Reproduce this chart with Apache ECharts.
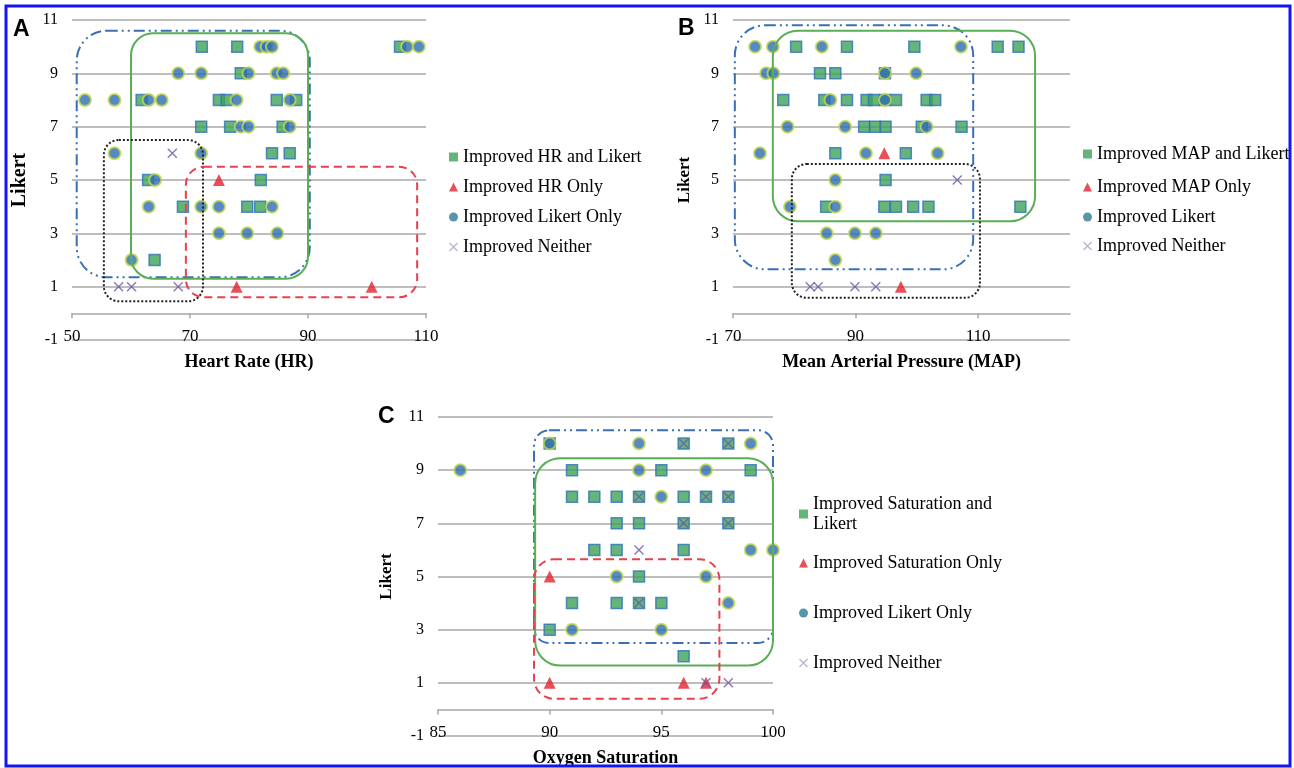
<!DOCTYPE html>
<html><head><meta charset="utf-8">
<script src="https://cdn.jsdelivr.net/npm/echarts@6/dist/echarts.min.js"></script>
<style>html,body{margin:0;padding:0;background:#fff}#c{width:1294px;height:768px}</style>
</head><body><div id="c"></div><script>
// ---------- data ----------
const likertTicks = [-1, 1, 3, 5, 7, 9, 11];
const hrTicks = [50, 70, 90, 110];
const mapTicks = [70, 90, 110];
const satTicks = [85, 90, 95, 100];

// Panel A: Heart Rate vs Likert
const aBoth = [[72,10],[78,10],[105.6,10],[78.6,9],[61.8,8],[74.9,8],[76.2,8],[84.7,8],[88,8],[71.9,7],[76.8,7],[85.7,7],[83.9,6],[86.9,6],[62.9,5],[82,5],[68.8,4],[79.7,4],[81.9,4],[64,2]];
const aHrOnly = [[74.9,5],[77.9,1],[100.8,1]];
const aLikertOnly = [[81.9,10],[83,10],[83.9,10],[106.8,10],[108.8,10],[68,9],[71.9,9],[79.9,9],[84.7,9],[85.8,9],[52.2,8],[57.2,8],[63,8],[65.2,8],[77.9,8],[86.9,8],[78.6,7],[79.9,7],[86.9,7],[57.2,6],[71.9,6],[64.1,5],[63,4],[71.9,4],[74.9,4],[83.9,4],[74.9,3],[79.7,3],[84.8,3],[60.1,2]];
const aNeither = [[67,6],[57.9,1],[60.1,1],[68,1]];

// Panel B: MAP vs Likert
const bBoth = [[80.3,10],[88.6,10],[99.6,10],[113.2,10],[116.6,10],[84.2,9],[86.7,9],[94.8,9],[78.2,8],[84.9,8],[88.6,8],[91.8,8],[93,8],[94.8,8],[96.6,8],[101.6,8],[103,8],[91.4,7],[93.2,7],[94.9,7],[100.8,7],[107.3,7],[86.7,6],[98.2,6],[94.9,5],[85.2,4],[94.7,4],[96.6,4],[99.4,4],[101.9,4],[116.9,4]];
const bMapOnly = [[94.7,6],[97.4,1]];
const bLikert = [[73.6,10],[76.5,10],[84.5,10],[107.2,10],[75.4,9],[76.6,9],[94.8,9],[99.9,9],[85.9,8],[94.8,8],[78.9,7],[88.3,7],[101.6,7],[74.4,6],[91.7,6],[103.4,6],[86.7,5],[79.3,4],[86.7,4],[85.3,3],[89.9,3],[93.3,3],[86.7,2]];
const bNeither = [[106.6,5],[82.6,1],[83.9,1],[89.9,1],[93.3,1]];

// Panel C: Oxygen saturation vs Likert
const cBoth = [[90,10],[96,10],[98,10],[91,9],[95,9],[99,9],[91,8],[92,8],[93,8],[94,8],[96,8],[97,8],[98,8],[93,7],[94,7],[96,7],[98,7],[92,6],[93,6],[96,6],[94,5],[91,4],[93,4],[94,4],[95,4],[90,3],[96,2]];
const cSatOnly = [[90,5],[90,1],[96,1],[97,1]];
const cLikertOnly = [[90,10],[94,10],[99,10],[86,9],[94,9],[97,9],[95,8],[99,6],[100,6],[93,5],[97,5],[98,4],[91,3],[95,3]];
const cNeither = [[96,10],[98,10],[94,8],[97,8],[98,8],[96,7],[98,7],[94,6],[94,4],[97,1],[98,1]];

// annotation outlines in data coordinates: [x1, yTop, x2, yBottom]
const boxesA = { blue: [50.8,10.6,90.3,1.35], green: [60,10.5,90,1.3], black: [55.4,6.5,72.2,0.45], red: [69.3,5.5,108.5,0.6] };
const boxesB = { blue: [70.3,10.8,109.2,1.65], green: [76.5,10.6,119.3,3.45], black: [79.6,5.6,110.3,0.58] };
const boxesC = { blue: [89.3,10.5,100,2.5], green: [89.35,9.45,100,1.65], red: [89.3,5.65,97.6,0.4] };

// ---------- styles ----------
const serif = "'Liberation Serif','Times New Roman',serif";
const gridColor = '#a8a8a8';
const SQ = { symbol: 'rect', symbolSize: 11, itemStyle: { color: '#3ea35a', borderColor: '#2f73b8', borderWidth: 1.5 } };
const TRI = { symbol: 'triangle', symbolSize: 12, itemStyle: { color: '#e3232f' } };
const XPATH = 'path://M0,1L1,0L5,4L9,0L10,1L6,5L10,9L9,10L5,6L1,10L0,9L4,5Z';
const CIR = { symbol: 'circle', symbolSize: 12, itemStyle: { color: '#2d6db4', borderColor: '#c3da48', borderWidth: 2 } };
const XS = { symbol: XPATH, symbolSize: 10, itemStyle: { color: '#6f55a8' } };

const grids = [
  { left: 72, top: 20, width: 354, height: 320 },
  { left: 733, top: 20, width: 337, height: 320 },
  { left: 438, top: 417, width: 335, height: 320 }
];

function xAx(gi, min, max, interval, ticks, name) {
  return {
    gridIndex: gi, type: 'value', min, max, interval,
    splitLine: { show: false },
    axisLine: { show: true, onZero: true, lineStyle: { color: gridColor, width: 1.5 } },
    axisTick: { show: true, inside: false, length: 5, customValues: ticks, lineStyle: { color: gridColor, width: 1.5 } },
    axisLabel: { customValues: ticks, margin: -12, color: '#000', fontFamily: serif, fontSize: 17 },
    name, nameLocation: 'middle', nameGap: 13, nameMoveOverlap: false,
    nameTextStyle: { fontFamily: serif, fontWeight: 'bold', fontSize: 18, color: '#000' }
  };
}
function yAx(gi, gap, nameSize) {
  return {
    gridIndex: gi, type: 'value', min: -1, max: 11, interval: 2,
    axisLine: { show: false }, axisTick: { show: false },
    splitLine: { show: true, lineStyle: { color: gridColor, width: 1.5 } },
    axisLabel: { margin: 14, color: '#000', fontFamily: serif, fontSize: 16 },
    name: 'Likert', nameLocation: 'middle', nameGap: gap, nameRotate: 90,
    nameTextStyle: { fontFamily: serif, fontWeight: 'bold', fontSize: nameSize, color: '#000' }
  };
}
function ser(name, gi, data, st) {
  return Object.assign({ type: 'scatter', name, xAxisIndex: gi, yAxisIndex: gi, data, emphasis: { disabled: true } }, st);
}

const legendStyle = { fontFamily: serif, fontSize: 18, color: '#000', lineHeight: 20 };
function leg(name, left, center, icon, color, extra) {
  const l = {
    left, top: center - 10, padding: 0, itemWidth: 9, itemHeight: 9, selectedMode: false,
    textStyle: Object.assign({}, legendStyle),
    data: [{ name, icon, itemStyle: { color, borderWidth: 0 } }]
  };
  return Object.assign(l, extra || {});
}

const option = {
  backgroundColor: '#fff',
  animation: false,
  grid: grids,
  xAxis: [
    xAx(0, 50, 110, 20, hrTicks, 'Heart Rate (HR)'),
    xAx(1, 70, 125, 20, mapTicks, 'Mean Arterial Pressure (MAP)'),
    xAx(2, 85, 100, 5, satTicks, 'Oxygen Saturation')
  ],
  yAxis: [yAx(0, 42, 20), yAx(1, 40, 17), yAx(2, 43, 17)],
  legend: [
    leg('Improved HR and Likert', 449, 157, 'rect', '#3ea35a'),
    leg('Improved HR Only', 449, 187, 'triangle', '#e3232f'),
    leg('Improved Likert Only', 449, 217, 'circle', '#2d7a96'),
    leg('Improved Neither', 449, 247, XPATH, '#a9a0c8'),
    leg('Improved MAP and Likert', 1083, 154, 'rect', '#3ea35a'),
    leg('Improved MAP Only', 1083, 187, 'triangle', '#e3232f'),
    leg('Improved Likert', 1083, 217, 'circle', '#2d7a96'),
    leg('Improved Neither', 1083, 246, XPATH, '#a9a0c8'),
    leg('Improved Saturation and Likert', 799, 514, 'rect', '#3ea35a', {
      formatter: () => 'Improved Saturation and\nLikert',
      top: 484,
      textStyle: Object.assign({}, legendStyle, { padding: [20, 0, 0, 0] })
    }),
    leg('Improved Saturation Only', 799, 563, 'triangle', '#e3232f'),
    leg('Improved Likert Only', 799, 613, 'circle', '#2d7a96'),
    leg('Improved Neither', 799, 663, XPATH, '#a9a0c8')
  ],
  series: [
    ser('Improved HR and Likert', 0, aBoth, SQ),
    ser('Improved HR Only', 0, aHrOnly, TRI),
    ser('Improved Likert Only', 0, aLikertOnly, CIR),
    ser('Improved Neither', 0, aNeither, XS),
    ser('Improved MAP and Likert', 1, bBoth, SQ),
    ser('Improved MAP Only', 1, bMapOnly, TRI),
    ser('Improved Likert', 1, bLikert, CIR),
    ser('Improved Neither', 1, bNeither, XS),
    ser('Improved Saturation and Likert', 2, cBoth, SQ),
    ser('Improved Saturation Only', 2, cSatOnly, TRI),
    ser('Improved Likert Only', 2, cLikertOnly, CIR),
    ser('Improved Neither', 2, cNeither, XS)
  ]
};

const chart = echarts.init(document.getElementById('c'), null, { renderer: 'canvas' });
chart.setOption(option);

const boxStyles = {
  blue: { stroke: '#3a6fb8', lineWidth: 2, lineDash: [11, 4, 2, 4, 2, 4] },
  green: { stroke: '#5aae55', lineWidth: 2 },
  black: { stroke: '#222', lineWidth: 2, lineDash: [2, 2] },
  red: { stroke: '#e8404c', lineWidth: 2, lineDash: [8, 5] }
};
const radii = [
  { blue: 30, green: 22, black: 15, red: 18 },
  { blue: 30, green: 25, black: 15 },
  { blue: 15, green: 25, red: 20 }
];
const graphics = [];
[boxesA, boxesB, boxesC].forEach((boxes, gi) => {
  Object.keys(boxes).forEach(k => {
    const b = boxes[k];
    const p1 = chart.convertToPixel({ gridIndex: gi }, [b[0], b[1]]);
    const p2 = chart.convertToPixel({ gridIndex: gi }, [b[2], b[3]]);
    graphics.push({
      type: 'rect', z: 100, silent: true,
      shape: { x: p1[0], y: p1[1], width: p2[0] - p1[0], height: p2[1] - p1[1], r: radii[gi][k] },
      style: Object.assign({ fill: 'none' }, boxStyles[k])
    });
  });
});
const panelFont = "bold 23px 'Liberation Sans', Arial, sans-serif";
graphics.push({ type: 'text', left: 13, top: 18, style: { text: 'A', font: panelFont, fill: '#000' } });
graphics.push({ type: 'text', left: 678, top: 17, style: { text: 'B', font: panelFont, fill: '#000' } });
graphics.push({ type: 'text', left: 378, top: 405, style: { text: 'C', font: panelFont, fill: '#000' } });
graphics.push({ type: 'rect', z: 200, silent: true, shape: { x: 6, y: 6, width: 1284, height: 760 }, style: { fill: 'none', stroke: '#1414f5', lineWidth: 3 } });
chart.setOption({ graphic: graphics });
</script></body></html>
